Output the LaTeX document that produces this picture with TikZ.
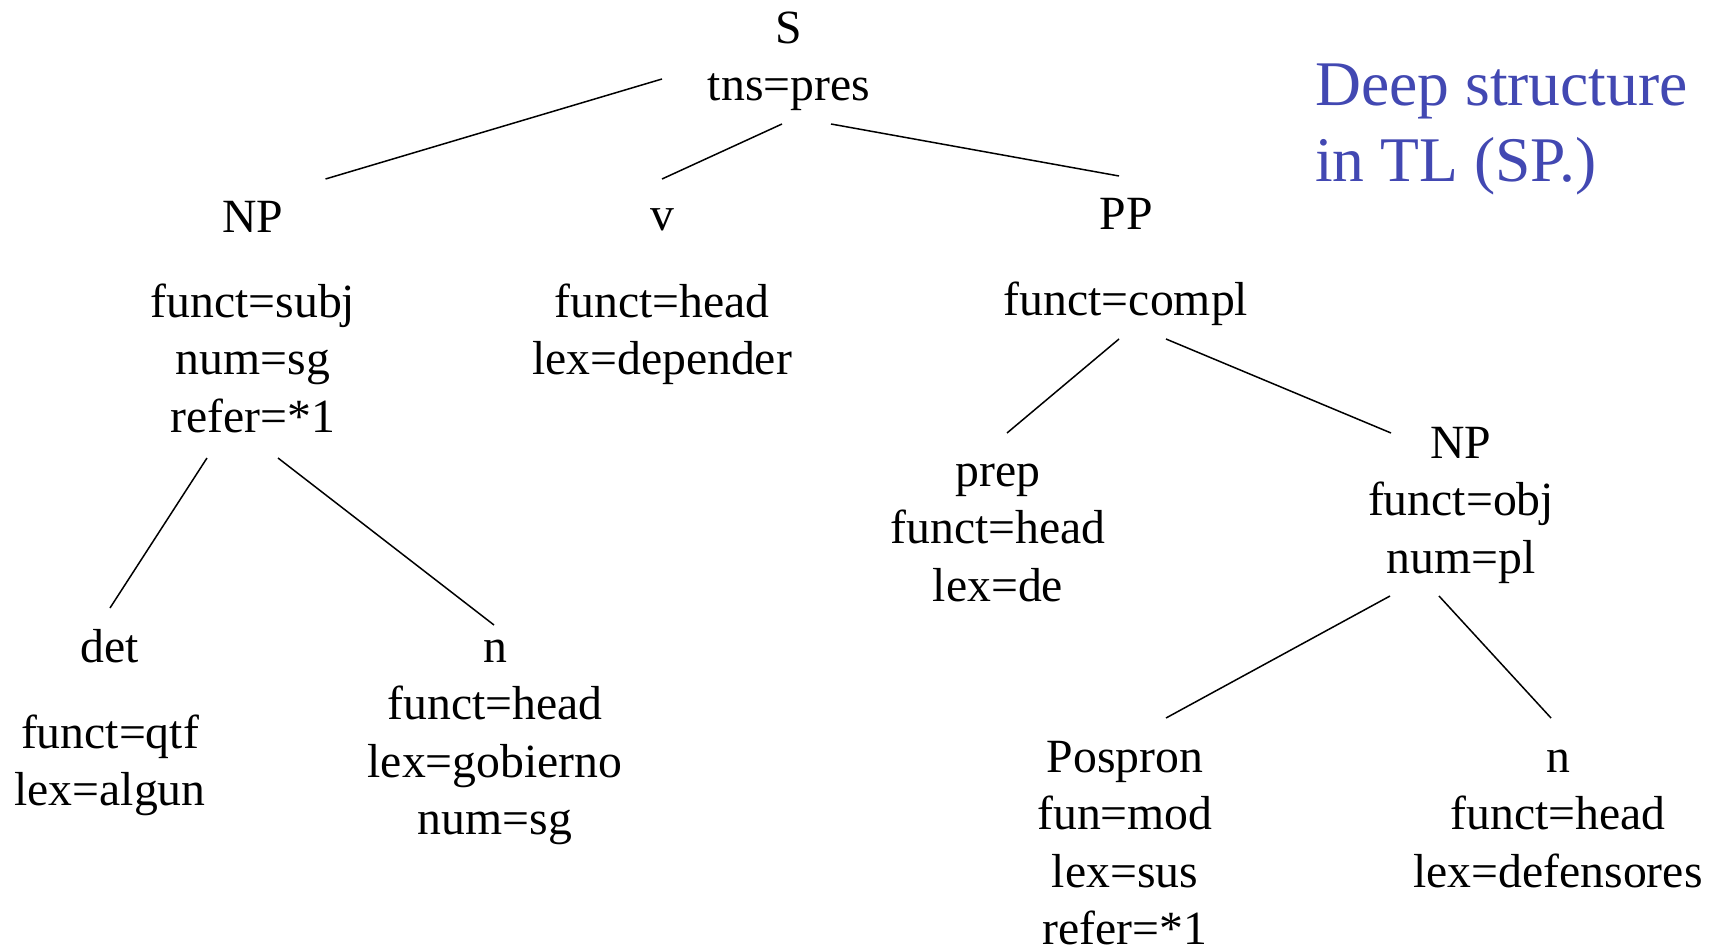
\documentclass[tikz,border=0pt]{standalone}
\usepackage{fontspec}
\setmainfont{Liberation Serif}
\definecolor{titleblue}{RGB}{66,72,178}
\begin{document}
\begin{tikzpicture}[x=1pt,y=-1pt,
  feat/.style={anchor=north,inner sep=0pt,align=center,
    font=\fontsize{47.7pt}{57.5pt}\selectfont},
  branch/.style={line width=1.5pt},
  titletext/.style={anchor=north west,inner sep=0pt,align=left,text=titleblue,
    font=\fontsize{63.6pt}{76pt}\selectfont}]
\useasboundingbox (0,0) rectangle (1719,947);
% first baseline sits 40.25pt below the node's north anchor
\node[feat] (S)   at (789,2.75)   {\strut S\\tns=pres};
\node[feat] (NPa) at (253,191.75) {\strut NP\\[27.5pt]funct=subj\\num=sg\\refer=*1};
\node[feat] (V)   at (662,189.75) {\strut v\\[29.5pt]funct=head\\lex=depender};
\node[feat] (PP)  at (1126,188.75){\strut PP\\[28.5pt]funct=compl};
\node[feat] (Det) at (110,621.75) {\strut det\\[28.5pt]funct=qtf\\lex=algun};
\node[feat] (Na)  at (495,621.75) {\strut n\\funct=head\\lex=gobierno\\num=sg};
\node[feat] (Prep) at (998,445.75){\strut prep\\funct=head\\lex=de};
\node[feat] (NPb) at (1461,417.75){\strut NP\\funct=obj\\num=pl};
\node[feat] (Pos) at (1125,731.75){\strut Pospron\\fun=mod\\lex=sus\\refer=*1};
\node[feat] (Nb)  at (1558,731.75){\strut n\\funct=head\\lex=defensores};
\node[titletext] (T) at (1315,52) {\rule{0pt}{53.2pt}Deep structure\\in TL (SP.)};
% branch end points
\coordinate (S-l)  at (662,79);   \coordinate (NPa-t) at (325.5,179);
\coordinate (S-m)  at (782,124);  \coordinate (V-t)   at (662,179);
\coordinate (S-r)  at (831,124);  \coordinate (PP-t)  at (1119,176);
\coordinate (NPa-l) at (207,458); \coordinate (Det-t) at (110,608);
\coordinate (NPa-r) at (278,458); \coordinate (Na-t)  at (494,625);
\coordinate (PP-l) at (1119,339); \coordinate (Prep-t) at (1007,433);
\coordinate (PP-r) at (1166,339); \coordinate (NPb-t) at (1391,433);
\coordinate (NPb-l) at (1390,596); \coordinate (Pos-t) at (1166,718);
\coordinate (NPb-r) at (1439,596); \coordinate (Nb-t) at (1551,718);
\draw[branch] (S-l) -- (NPa-t);
\draw[branch] (S-m) -- (V-t);
\draw[branch] (S-r) -- (PP-t);
\draw[branch] (NPa-l) -- (Det-t);
\draw[branch] (NPa-r) -- (Na-t);
\draw[branch] (PP-l) -- (Prep-t);
\draw[branch] (PP-r) -- (NPb-t);
\draw[branch] (NPb-l) -- (Pos-t);
\draw[branch] (NPb-r) -- (Nb-t);
\end{tikzpicture}
\end{document}
